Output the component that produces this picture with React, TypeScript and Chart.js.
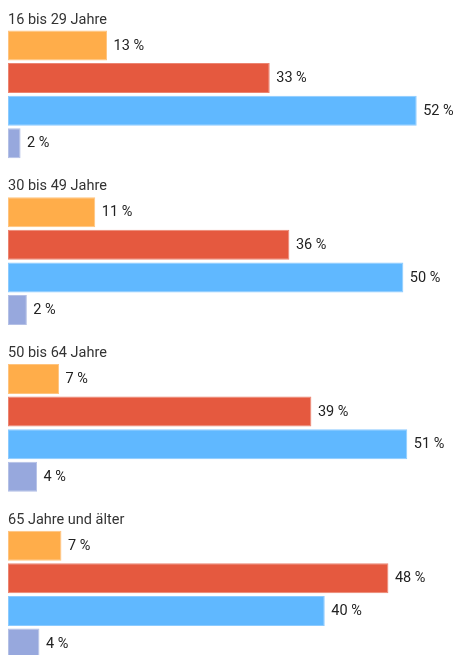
import React, { useEffect, useRef } from "react";
import { Chart, registerables } from "chart.js";

Chart.register(...registerables);

const categories = ["16 bis 29 Jahre", "30 bis 49 Jahre", "50 bis 64 Jahre", "65 Jahre und älter"];
const seriesOrange = [12.6, 11.1, 6.5, 6.8];
const seriesRed = [33.3, 35.8, 38.6, 48.4];
const seriesBlue = [52.0, 50.3, 50.8, 40.3];
const seriesLavender = [1.6, 2.4, 3.7, 4.0];

const colors = ["#FFAD4A", "#E5593F", "#60B8FF", "#97A8DD"];
const borders = ["#FFC47F", "#EC8572", "#8CCBFF", "#B4C0E6"];

const FONT = "Roboto, 'Noto Sans', sans-serif";

const labelPlugin = {
  id: "groupLabels",
  afterDraw(chart: any) {
    const ctx = chart.ctx;
    ctx.save();
    ctx.font = `14.5px ${FONT}`;
    ctx.fillStyle = "#222222";
    ctx.textBaseline = "middle";
    ctx.textAlign = "left";
    chart.data.datasets.forEach((ds: any, di: number) => {
      const meta = chart.getDatasetMeta(di);
      meta.data.forEach((bar: any, i: number) => {
        const v = ds.data[i];
        ctx.fillText(`${Math.round(v)} %`, bar.x + 6.5, bar.y + 0.5);
      });
    });
    // group titles
    const first = chart.getDatasetMeta(0);
    ctx.font = `14.5px ${FONT}`;
    ctx.fillStyle = "#333333";
    ctx.textBaseline = "alphabetic";
    first.data.forEach((bar: any, i: number) => {
      const top = bar.y - bar.height / 2;
      ctx.fillText(categories[i], 0, top - 7);
    });
    ctx.restore();
  },
};

export default function App() {
  const ref = useRef<HTMLCanvasElement | null>(null);
  useEffect(() => {
    document.body.style.margin = "8px 0 0 8px";
    if (!ref.current) return;
    const chart = new Chart(ref.current, {
      type: "bar",
      data: {
        labels: categories,
        datasets: [seriesOrange, seriesRed, seriesBlue, seriesLavender].map((d, i) => ({
          data: d,
          backgroundColor: colors[i],
          borderColor: borders[i],
          borderWidth: 1,
          borderSkipped: false,
          categoryPercentage: 0.78,
          barPercentage: 0.923,
        })),
      },
      options: {
        indexAxis: "y",
        responsive: false,
        animation: false,
        devicePixelRatio: 1,
        layout: { padding: { top: 3, right: 0, left: 0, bottom: 0 } },
        plugins: { legend: { display: false }, tooltip: { enabled: false }, title: { display: false } },
        scales: {
          x: { display: false, min: 0, max: 57 },
          y: { display: false },
        },
      },
      plugins: [labelPlugin],
    } as any);
    return () => chart.destroy();
  }, []);
  return (
    <div style={{ width: 448, height: 647, overflow: "hidden" }}>
      <canvas ref={ref} width={448} height={670} style={{ display: "block" }} />
    </div>
  );
}
